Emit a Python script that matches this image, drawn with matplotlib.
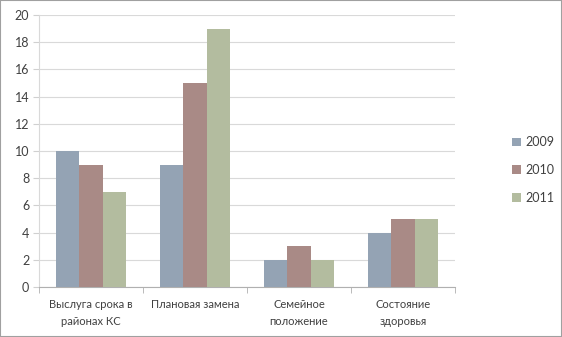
import numpy as np
import matplotlib.pyplot as plt
from matplotlib.patches import Rectangle

plt.rcParams['font.family'] = ['Lato', 'DejaVu Sans']

# данные
categories = ['Выслуга срока в\nрайонах КС', 'Плановая замена', 'Семейное\nположение', 'Состояние\nздоровья']
years = ['2009', '2010', '2011']
v2009 = [10, 9, 2, 4]
v2010 = [9, 15, 3, 5]
v2011 = [7, 19, 2, 5]
colors = ['#94a3b4', '#a98a86', '#b3bc9f']

fig = plt.figure(figsize=(5.62, 3.37), dpi=100)
ax = fig.add_axes([0.0694, 0.1484, 0.7402, 0.8071])

x = np.arange(len(categories))
w = 0.222
for i, (vals, lab, c) in enumerate(zip([v2009, v2010, v2011], years, colors)):
    ax.bar(x + (i - 1) * w, vals, width=w, color=c, label=lab, zorder=3)

ax.set_xlim(-0.5, len(categories) - 0.5)
ax.set_ylim(0, 20)
ax.set_yticks(range(0, 21, 2))
ax.set_xticks(x)
ax.set_xticklabels(categories, fontsize=8, color='#404040', linespacing=1.6)
ax.set_xticks(np.arange(-0.5, len(categories), 1), minor=True)
ax.tick_params(axis='x', which='major', length=0, pad=9)
ax.tick_params(axis='x', which='minor', length=4, color='#b0b0b0')
ax.tick_params(axis='y', length=4, color='#d0d0d0', labelsize=9, labelcolor='#404040', pad=3)
ax.yaxis.grid(True, color='#d9d9d9', linewidth=0.8, zorder=0)
for s in ['top', 'right']:
    ax.spines[s].set_visible(False)
ax.spines['left'].set_color('#d9d9d9')
ax.spines['bottom'].set_color('#b0b0b0')

ax.legend(loc='center left', bbox_to_anchor=(1.11, 0.43), frameon=False, fontsize=9,
          handlelength=0.7, handleheight=0.7, labelspacing=1.25, handletextpad=0.4,
          labelcolor='#404040')

fig.patches.append(Rectangle((0, 0), 1, 1, transform=fig.transFigure, fill=False,
                             edgecolor='#a0a0a0', linewidth=1.5))

plt.savefig('out.png', dpi=100)
